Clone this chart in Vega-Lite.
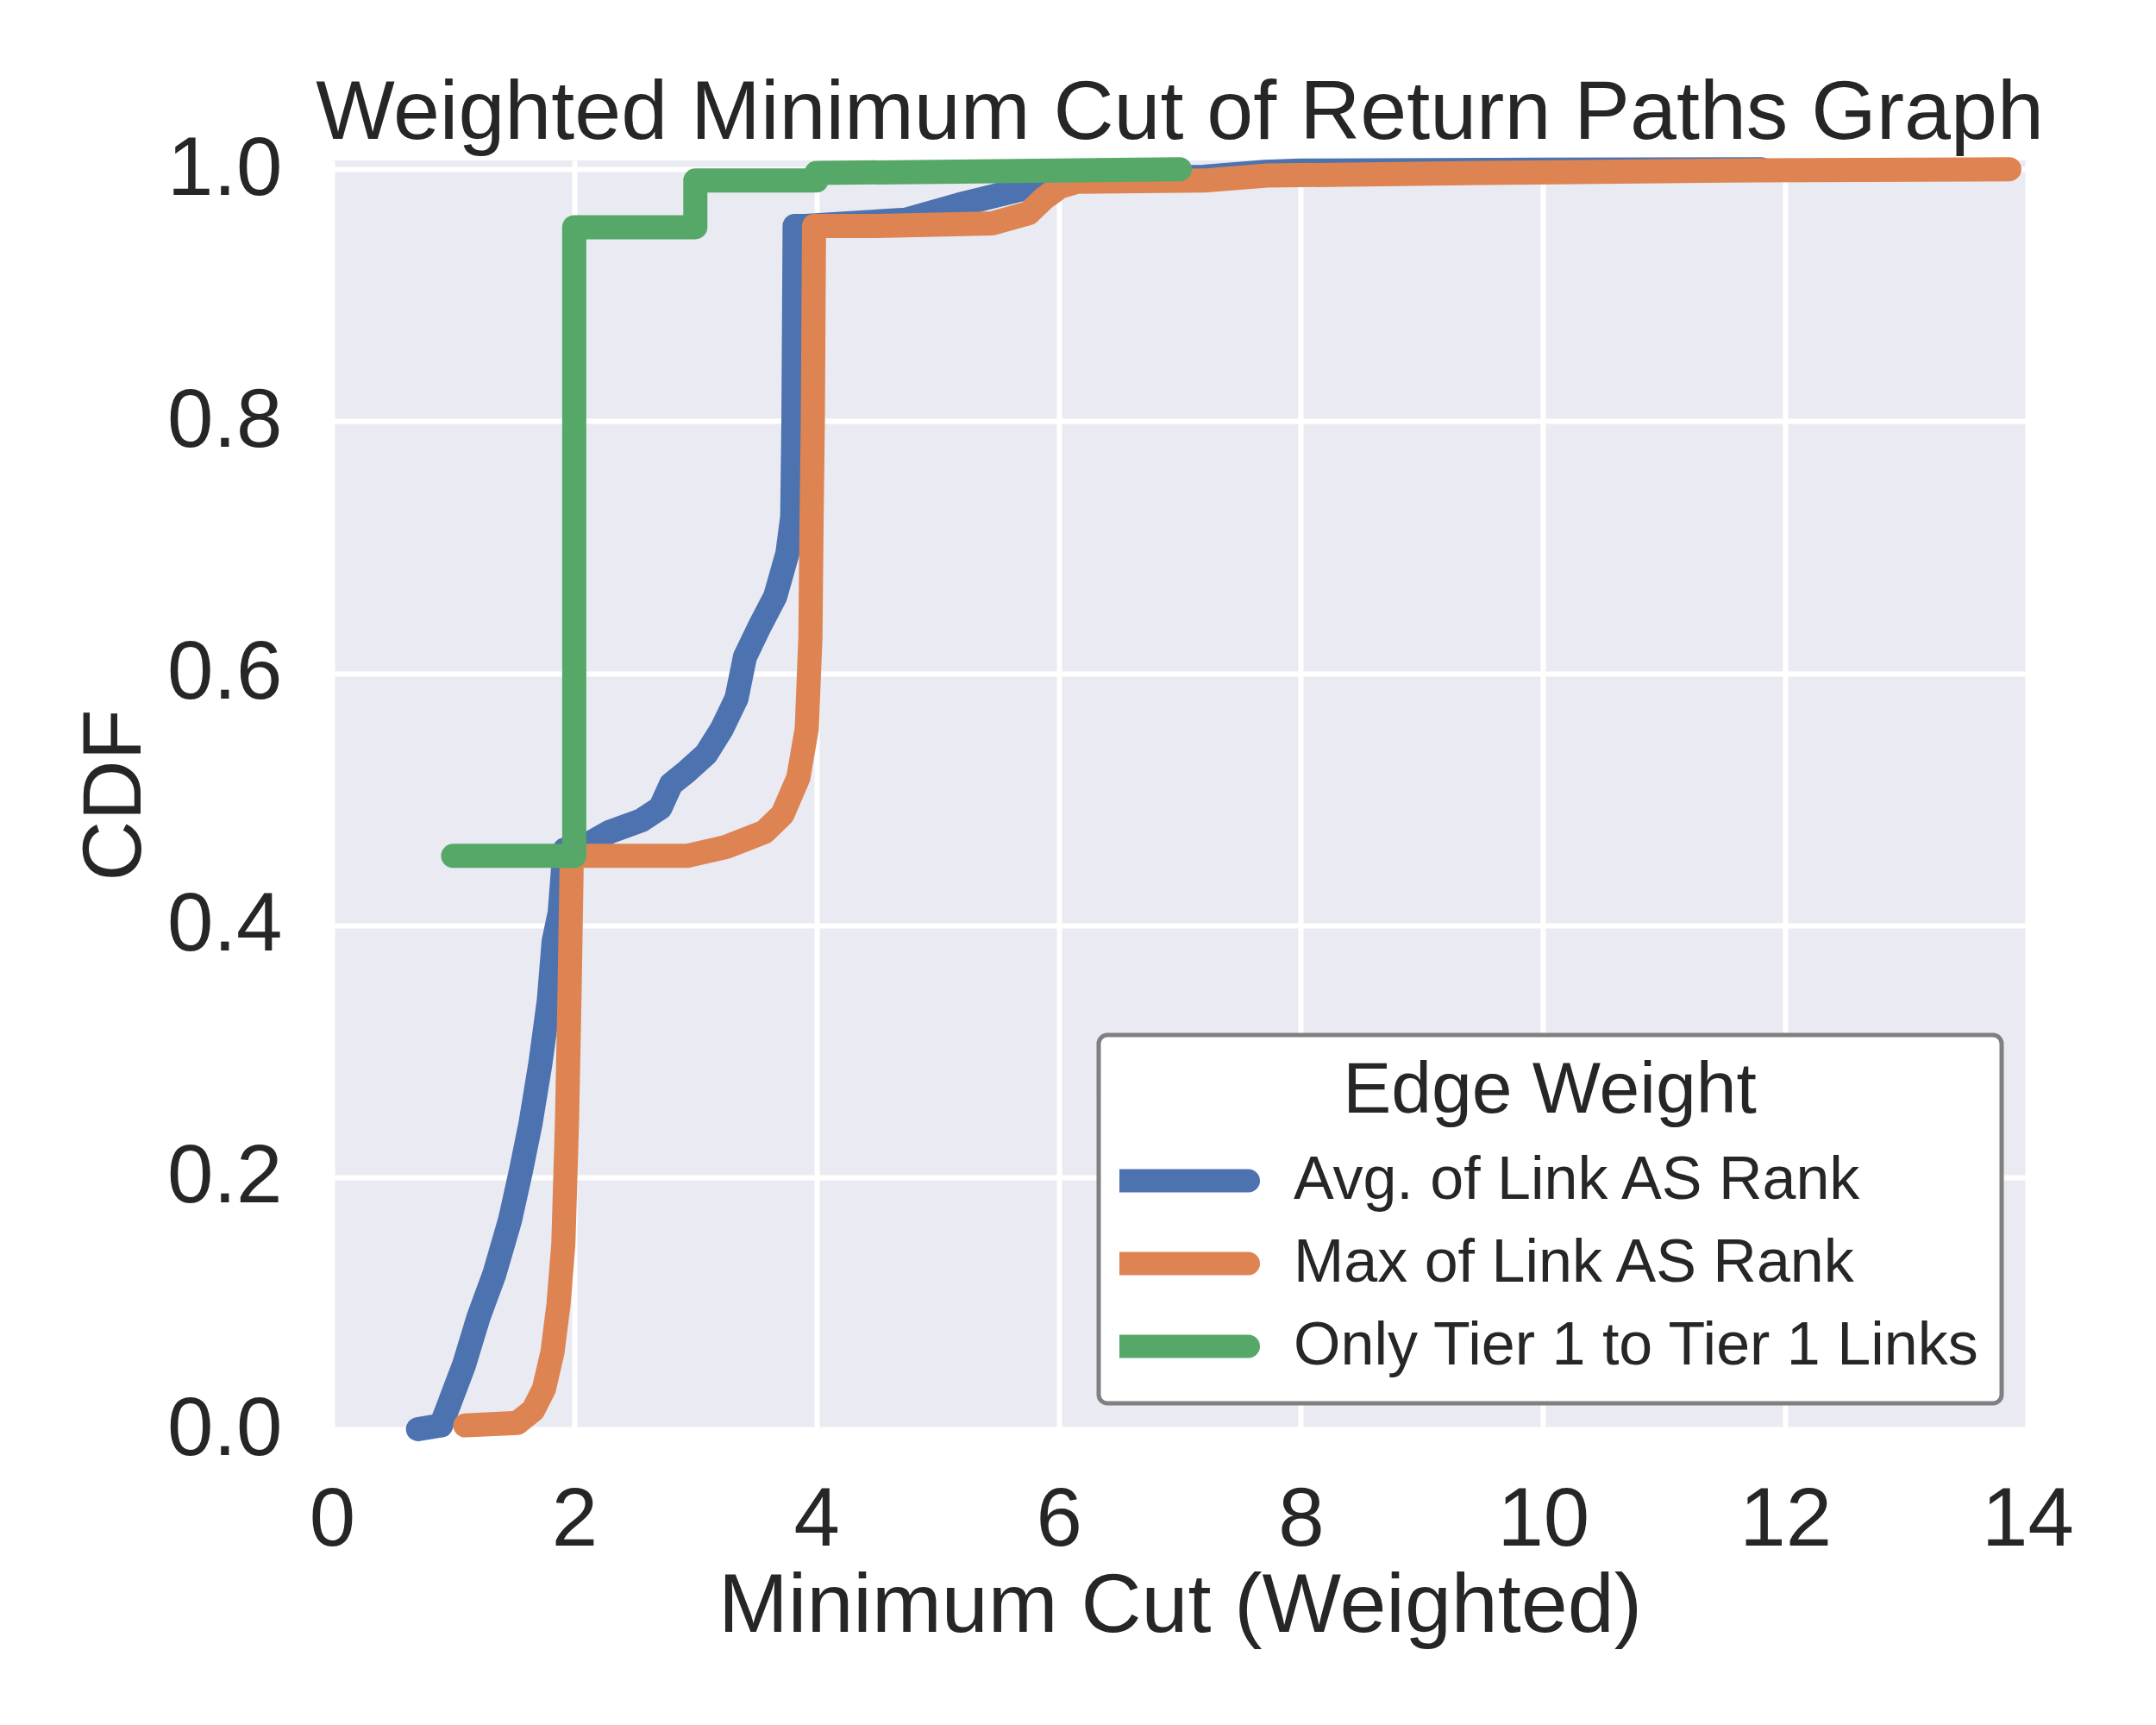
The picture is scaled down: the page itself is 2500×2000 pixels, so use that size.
{
  "$schema": "https://vega.github.io/schema/vega-lite/v6.json",
  "autosize": {"type": "none"},
  "padding": {"left": 385, "top": 186, "right": 149, "bottom": 343},
  "width": 1966,
  "height": 1471,
  "background": "white",
  "title": {
    "text": "Weighted Minimum Cut of Return Paths Graph",
    "font": "Liberation Sans",
    "fontSize": 97,
    "fontWeight": "normal",
    "color": "#262626",
    "baseline": "alphabetic",
    "offset": 26,
    "dy": 136,
    "anchor": "middle",
    "limit": 0
  },
  "data": {
    "values": [
      {"s": "Avg. of Link AS Rank", "i": 1, "x": 0.71, "y": 0.0},
      {"s": "Avg. of Link AS Rank", "i": 2, "x": 0.9, "y": 0.003},
      {"s": "Avg. of Link AS Rank", "i": 3, "x": 0.96, "y": 0.018},
      {"s": "Avg. of Link AS Rank", "i": 4, "x": 1.09, "y": 0.051},
      {"s": "Avg. of Link AS Rank", "i": 5, "x": 1.21, "y": 0.089},
      {"s": "Avg. of Link AS Rank", "i": 6, "x": 1.34, "y": 0.123},
      {"s": "Avg. of Link AS Rank", "i": 7, "x": 1.47, "y": 0.166},
      {"s": "Avg. of Link AS Rank", "i": 8, "x": 1.56, "y": 0.205},
      {"s": "Avg. of Link AS Rank", "i": 9, "x": 1.64, "y": 0.243},
      {"s": "Avg. of Link AS Rank", "i": 10, "x": 1.72, "y": 0.29},
      {"s": "Avg. of Link AS Rank", "i": 11, "x": 1.79, "y": 0.34},
      {"s": "Avg. of Link AS Rank", "i": 12, "x": 1.83, "y": 0.387},
      {"s": "Avg. of Link AS Rank", "i": 13, "x": 1.88, "y": 0.41},
      {"s": "Avg. of Link AS Rank", "i": 14, "x": 1.92, "y": 0.46},
      {"s": "Avg. of Link AS Rank", "i": 15, "x": 2.09, "y": 0.463},
      {"s": "Avg. of Link AS Rank", "i": 16, "x": 2.29, "y": 0.474},
      {"s": "Avg. of Link AS Rank", "i": 17, "x": 2.55, "y": 0.483},
      {"s": "Avg. of Link AS Rank", "i": 18, "x": 2.71, "y": 0.493},
      {"s": "Avg. of Link AS Rank", "i": 19, "x": 2.8, "y": 0.512},
      {"s": "Avg. of Link AS Rank", "i": 20, "x": 2.93, "y": 0.522},
      {"s": "Avg. of Link AS Rank", "i": 21, "x": 3.09, "y": 0.536},
      {"s": "Avg. of Link AS Rank", "i": 22, "x": 3.22, "y": 0.556},
      {"s": "Avg. of Link AS Rank", "i": 23, "x": 3.34, "y": 0.58},
      {"s": "Avg. of Link AS Rank", "i": 24, "x": 3.41, "y": 0.613},
      {"s": "Avg. of Link AS Rank", "i": 25, "x": 3.53, "y": 0.637},
      {"s": "Avg. of Link AS Rank", "i": 26, "x": 3.66, "y": 0.661},
      {"s": "Avg. of Link AS Rank", "i": 27, "x": 3.76, "y": 0.695},
      {"s": "Avg. of Link AS Rank", "i": 28, "x": 3.8, "y": 0.724},
      {"s": "Avg. of Link AS Rank", "i": 29, "x": 3.81, "y": 0.8},
      {"s": "Avg. of Link AS Rank", "i": 30, "x": 3.82, "y": 0.955},
      {"s": "Avg. of Link AS Rank", "i": 31, "x": 3.91, "y": 0.955},
      {"s": "Avg. of Link AS Rank", "i": 32, "x": 4.74, "y": 0.96},
      {"s": "Avg. of Link AS Rank", "i": 33, "x": 5.18, "y": 0.972},
      {"s": "Avg. of Link AS Rank", "i": 34, "x": 5.69, "y": 0.984},
      {"s": "Avg. of Link AS Rank", "i": 35, "x": 5.88, "y": 0.989},
      {"s": "Avg. of Link AS Rank", "i": 36, "x": 6.1, "y": 0.992},
      {"s": "Avg. of Link AS Rank", "i": 37, "x": 7.2, "y": 0.994},
      {"s": "Avg. of Link AS Rank", "i": 38, "x": 7.7, "y": 0.998},
      {"s": "Avg. of Link AS Rank", "i": 39, "x": 8.0, "y": 0.999},
      {"s": "Avg. of Link AS Rank", "i": 40, "x": 9.6, "y": 0.9995},
      {"s": "Avg. of Link AS Rank", "i": 41, "x": 11.8, "y": 1.0},
      {"s": "Max of Link AS Rank", "i": 1, "x": 1.1, "y": 0.003},
      {"s": "Max of Link AS Rank", "i": 2, "x": 1.53, "y": 0.005},
      {"s": "Max of Link AS Rank", "i": 3, "x": 1.66, "y": 0.015},
      {"s": "Max of Link AS Rank", "i": 4, "x": 1.75, "y": 0.032},
      {"s": "Max of Link AS Rank", "i": 5, "x": 1.82, "y": 0.061},
      {"s": "Max of Link AS Rank", "i": 6, "x": 1.87, "y": 0.099},
      {"s": "Max of Link AS Rank", "i": 7, "x": 1.91, "y": 0.147},
      {"s": "Max of Link AS Rank", "i": 8, "x": 1.94, "y": 0.243},
      {"s": "Max of Link AS Rank", "i": 9, "x": 1.96, "y": 0.34},
      {"s": "Max of Link AS Rank", "i": 10, "x": 1.98, "y": 0.455},
      {"s": "Max of Link AS Rank", "i": 11, "x": 2.93, "y": 0.455},
      {"s": "Max of Link AS Rank", "i": 12, "x": 3.25, "y": 0.462},
      {"s": "Max of Link AS Rank", "i": 13, "x": 3.57, "y": 0.474},
      {"s": "Max of Link AS Rank", "i": 14, "x": 3.72, "y": 0.488},
      {"s": "Max of Link AS Rank", "i": 15, "x": 3.85, "y": 0.517},
      {"s": "Max of Link AS Rank", "i": 16, "x": 3.92, "y": 0.556},
      {"s": "Max of Link AS Rank", "i": 17, "x": 3.95, "y": 0.628},
      {"s": "Max of Link AS Rank", "i": 18, "x": 3.96, "y": 0.724},
      {"s": "Max of Link AS Rank", "i": 19, "x": 3.97, "y": 0.8},
      {"s": "Max of Link AS Rank", "i": 20, "x": 3.98, "y": 0.955},
      {"s": "Max of Link AS Rank", "i": 21, "x": 4.5, "y": 0.955},
      {"s": "Max of Link AS Rank", "i": 22, "x": 5.45, "y": 0.957},
      {"s": "Max of Link AS Rank", "i": 23, "x": 5.75, "y": 0.965},
      {"s": "Max of Link AS Rank", "i": 24, "x": 5.88, "y": 0.977},
      {"s": "Max of Link AS Rank", "i": 25, "x": 6.01, "y": 0.986},
      {"s": "Max of Link AS Rank", "i": 26, "x": 6.15, "y": 0.99},
      {"s": "Max of Link AS Rank", "i": 27, "x": 7.2, "y": 0.991},
      {"s": "Max of Link AS Rank", "i": 28, "x": 7.72, "y": 0.995},
      {"s": "Max of Link AS Rank", "i": 29, "x": 9.5, "y": 0.997},
      {"s": "Max of Link AS Rank", "i": 30, "x": 11.5, "y": 0.999},
      {"s": "Max of Link AS Rank", "i": 31, "x": 13.85, "y": 1.0},
      {"s": "Only Tier 1 to Tier 1 Links", "i": 1, "x": 1, "y": 0.455},
      {"s": "Only Tier 1 to Tier 1 Links", "i": 2, "x": 2, "y": 0.455},
      {"s": "Only Tier 1 to Tier 1 Links", "i": 3, "x": 2, "y": 0.954},
      {"s": "Only Tier 1 to Tier 1 Links", "i": 4, "x": 3, "y": 0.954},
      {"s": "Only Tier 1 to Tier 1 Links", "i": 5, "x": 3, "y": 0.991},
      {"s": "Only Tier 1 to Tier 1 Links", "i": 6, "x": 4, "y": 0.991},
      {"s": "Only Tier 1 to Tier 1 Links", "i": 7, "x": 4, "y": 0.997},
      {"s": "Only Tier 1 to Tier 1 Links", "i": 8, "x": 5, "y": 0.998},
      {"s": "Only Tier 1 to Tier 1 Links", "i": 9, "x": 7, "y": 1.0}
    ]
  },
  "mark": {"type": "line", "strokeWidth": 28, "strokeCap": "round", "strokeJoin": "round", "clip": false},
  "encoding": {
    "x": {
      "field": "x", "type": "quantitative",
      "scale": {"domain": [0, 14], "nice": false, "zero": false},
      "axis": {"values": [0, 2, 4, 6, 8, 10, 12, 14], "title": "Minimum Cut (Weighted)", "labelPadding": 58, "titlePadding": 4, "labelFlush": false}
    },
    "y": {
      "field": "y", "type": "quantitative",
      "scale": {"domain": [0, 1.007], "nice": false, "zero": false},
      "axis": {"values": [0, 0.2, 0.4, 0.6, 0.8, 1.0], "format": ".1f", "title": "CDF", "labelPadding": 58, "titlePadding": 11, "labelFlush": false}
    },
    "color": {
      "field": "s", "type": "nominal",
      "scale": {"domain": ["Avg. of Link AS Rank", "Max of Link AS Rank", "Only Tier 1 to Tier 1 Links"], "range": ["#4C72B0", "#DD8452", "#55A868"]},
      "legend": {
        "title": "Edge Weight",
        "encode": {"symbols": {"update": {"strokeCap": {"value": "round"}}}}
      }
    },
    "order": {"field": "i", "type": "quantitative"}
  },
  "config": {
    "view": {"fill": "#EAEAF2", "stroke": null},
    "axis": {
      "domain": false,
      "ticks": false,
      "grid": true,
      "gridColor": "#FFFFFF",
      "gridWidth": 6,
      "labelFont": "Liberation Sans",
      "labelFontSize": 96,
      "labelColor": "#262626",
      "titleFont": "Liberation Sans",
      "titleFontSize": 97,
      "titleFontWeight": "normal",
      "titleColor": "#262626"
    },
    "legend": {
      "orient": "bottom-right",
      "offset": 30,
      "padding": 24,
      "fillColor": "#FFFFFF",
      "strokeColor": "#808080",
      "strokeWidth": 5,
      "cornerRadius": 10,
      "symbolType": "stroke",
      "symbolStrokeWidth": 27,
      "symbolSize": 22500,
      "symbolOffset": -14,
      "clipHeight": 84,
      "rowPadding": 12,
      "labelFont": "Liberation Sans",
      "labelFontSize": 70,
      "labelColor": "#262626",
      "labelOffset": 39,
      "labelLimit": 0,
      "titleLimit": 0,
      "titleFont": "Liberation Sans",
      "titleFontSize": 84,
      "titleFontWeight": "normal",
      "titleColor": "#262626",
      "titleAnchor": "middle",
      "titleAlign": "center",
      "titlePadding": 19
    }
  }
}
